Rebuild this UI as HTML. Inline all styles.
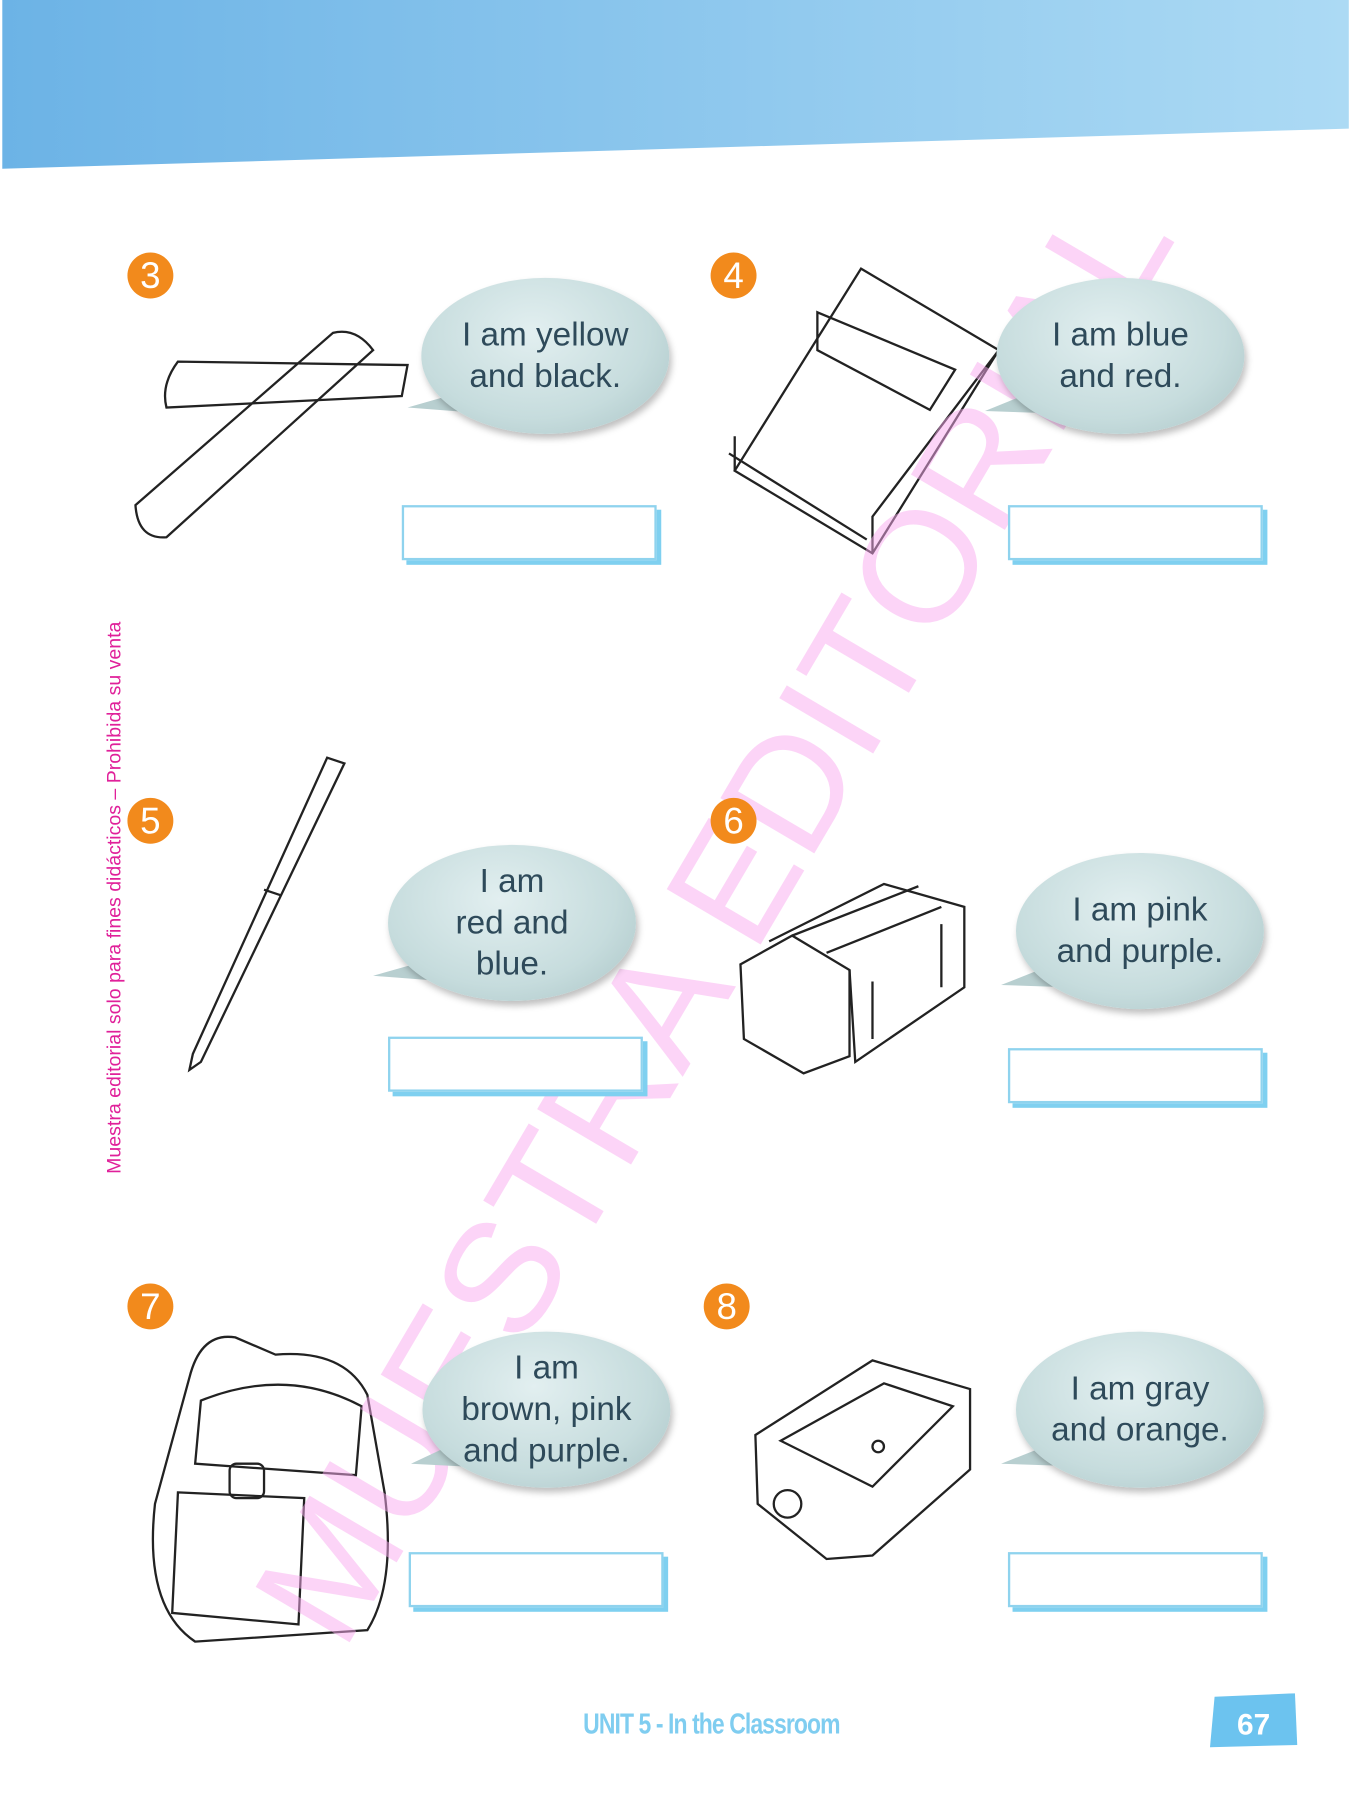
<!DOCTYPE html>
<html><head><meta charset="utf-8"><style>
html,body{margin:0;padding:0;background:#fff;}
body{width:1349px;height:1800px;overflow:hidden;position:relative;}
#p{position:absolute;left:0;top:0;width:1175px;height:1568px;transform:scale(1.148);transform-origin:0 0;font-family:"Liberation Sans",sans-serif;}
.num{position:absolute;width:40px;height:40px;border-radius:50%;background:#f28a1c;color:#fff;font-size:32px;line-height:40px;text-align:center;}
.bub{position:absolute;width:216px;height:136px;border-radius:50%;background:radial-gradient(ellipse at 45% 35%,#e2eff0 0%,#c6dcdd 60%,#a9c3c5 100%);box-shadow:2px 4px 6px rgba(0,0,0,.25);color:#2e4a5a;font-size:29px;line-height:36px;text-align:center;display:flex;align-items:center;justify-content:center;}
.box{position:absolute;width:218px;height:44px;border:2px solid #8fd3ee;background:#fff;box-shadow:4px 4px 0 #7fd0f0;}
</style></head><body><div id="p">
<svg style="position:absolute;left:0;top:0" width="1175" height="150"><defs><linearGradient id="g" x1="0" x2="1"><stop offset="0" stop-color="#6cb3e6"/><stop offset="1" stop-color="#acdaf4"/></linearGradient></defs><polygon points="2,0 1175,0 1175,112 2,147" fill="url(#g)"/></svg>

<svg style="position:absolute;left:0;top:0" width="1175" height="1568" fill="none" stroke="#222" stroke-width="2">
<path d="M118,440 L290,290 Q310,285 325,305 L145,468 Q120,470 118,440Z"/>
<path d="M155,315 L355,318 L350,345 L145,355 Q140,335 155,315Z"/>
<path d="M750,234 L870,305 L760,482 L640,410 Z"/><path d="M712,272 L832,322 L810,357 L712,305Z"/><path d="M640,380 L640,410 M635,395 L755,470 M760,482 L760,450 L870,305"/>
<path d="M285,660 L300,665 L175,925 L165,932 L168,918 Z"/><path d="M230,775 L245,780"/>
<path d="M645,840 L690,815 L740,845 L740,920 L700,935 L648,905Z"/><path d="M670,820 L770,770 L840,790 L840,860 L745,925 L740,845"/><path d="M690,815 L800,772 M720,830 L820,790 M760,855 L760,905 M820,805 L820,860"/>
<path d="M165,1200 Q175,1160 205,1165 L240,1180 Q300,1175 320,1215 L335,1300 Q345,1380 320,1420 L170,1430 Q125,1400 135,1310Z"/><path d="M155,1300 L265,1305 L260,1415 L150,1405Z"/><path d="M175,1220 Q250,1190 315,1225 L310,1285 L170,1275Z"/><rect x="200" y="1275" width="30" height="30" rx="6"/>
<path d="M658,1250 L760,1185 L845,1210 L845,1280 L760,1355 L720,1358 L660,1310Z"/><path d="M680,1255 L770,1205 L830,1225 L760,1295 Z"/><circle cx="686" cy="1310" r="12"/><circle cx="765" cy="1260" r="5"/>
</svg>

<div style="position:absolute;font-size:138px;color:rgba(250,170,240,0.5);transform:translate(-50%,-50%) rotate(-59.5deg);left:622px;top:800px;white-space:nowrap;">MUESTRA EDITORIAL</div>

<div style="position:absolute;left:100px;top:782px;transform:translate(-50%,-50%) rotate(-90deg);white-space:nowrap;color:#e0209a;font-size:17px;">Muestra editorial solo para fines didácticos – Prohibida su venta</div>

<div class="num" style="left:111px;top:220px">3</div>
<div class="num" style="left:619px;top:220px">4</div>
<div class="num" style="left:111px;top:695px">5</div>
<div class="num" style="left:619px;top:695px">6</div>
<div class="num" style="left:111px;top:1118px">7</div>
<div class="num" style="left:613px;top:1118px">8</div>

<svg style="position:absolute;left:0;top:0" width="1175" height="1568">
<polygon points="390,345 355,355 420,360" fill="#b8cfd0"/>
<polygon points="890,345 858,358 915,360" fill="#b8cfd0"/>
<polygon points="360,840 325,850 390,855" fill="#b8cfd0"/>
<polygon points="905,845 872,858 930,860" fill="#b8cfd0"/>
<polygon points="390,1260 358,1275 415,1278" fill="#b8cfd0"/>
<polygon points="905,1262 872,1275 930,1277" fill="#b8cfd0"/>
</svg>

<div class="bub" style="left:367px;top:242px">I am yellow<br>and black.</div>
<div class="bub" style="left:868px;top:242px">I am blue<br>and red.</div>
<div class="bub" style="left:338px;top:736px">I am<br>red and<br>blue.</div>
<div class="bub" style="left:885px;top:743px">I am pink<br>and purple.</div>
<div class="bub" style="left:368px;top:1160px">I am<br>brown, pink<br>and purple.</div>
<div class="bub" style="left:885px;top:1160px">I am gray<br>and orange.</div>

<div class="box" style="left:350px;top:440px"></div>
<div class="box" style="left:878px;top:440px"></div>
<div class="box" style="left:338px;top:903px"></div>
<div class="box" style="left:878px;top:913px"></div>
<div class="box" style="left:356px;top:1352px"></div>
<div class="box" style="left:878px;top:1352px"></div>

<div style="position:absolute;left:508px;top:1488px;color:#7fcdf0;font-size:25px;font-weight:bold;letter-spacing:-1px;transform:scaleX(0.8);transform-origin:0 0;white-space:nowrap">UNIT 5 - In the Classroom</div>
<svg style="position:absolute;left:1050px;top:1475px" width="85" height="50"><polygon points="8,3 78,0 80,45 4,47" fill="#6cc3ef"/><text x="42" y="36" text-anchor="middle" fill="#fff" font-size="26" font-weight="bold" font-family="Liberation Sans">67</text></svg>
</div></body></html>
